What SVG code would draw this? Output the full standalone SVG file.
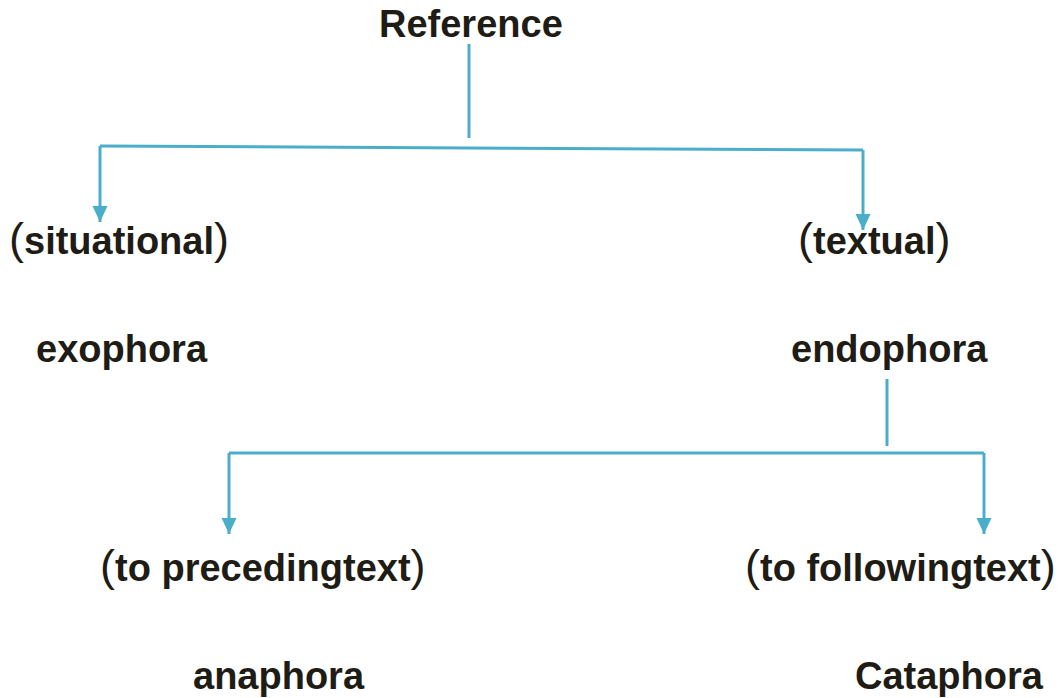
<svg xmlns="http://www.w3.org/2000/svg" width="1062" height="698" viewBox="0 0 1062 698">
<style>
.t{font-family:"Liberation Sans",Arial,sans-serif;font-weight:700;font-size:38px;fill:#1e1c15}
.p{font-weight:400;font-size:45px}
.c{fill:none;stroke:#4aaeca;stroke-width:3}
</style>
<defs>
<marker id="ah" markerUnits="userSpaceOnUse" markerWidth="16" markerHeight="16" viewBox="0 0 16 16" refX="16" refY="8" orient="auto">
<path d="M0,0.5 L16,8 L0,15.5 Z" fill="#4aaeca"/>
</marker>
</defs>
<rect width="1062" height="698" fill="#fff"/>
<g id="connectors">
<path class="c" d="M469,44 V138"/>
<path class="c" d="M100,146 L863,150"/>
<path class="c" d="M100,146 V222" marker-end="url(#ah)"/>
<path class="c" d="M863,150 V230" marker-end="url(#ah)"/>
<path class="c" d="M887,379 V446"/>
<path class="c" d="M229,453 H984"/>
<path class="c" d="M229,453 V534" marker-end="url(#ah)"/>
<path class="c" d="M984,453 V534" marker-end="url(#ah)"/>
</g>
<g id="reference"><text class="t" x="379" y="37">Reference</text></g>
<g id="situational"><text class="t" x="9" y="254"><tspan class="p">(</tspan>situational<tspan class="p">)</tspan></text></g>
<g id="textual"><text class="t" x="798" y="254"><tspan class="p">(</tspan>textual<tspan class="p">)</tspan></text></g>
<g id="exophora"><text class="t" x="36" y="362">exophora</text></g>
<g id="endophora"><text class="t" x="791" y="362">endophora</text></g>
<g id="preceding"><text class="t" x="100" y="581"><tspan class="p">(</tspan>to precedingtext<tspan class="p">)</tspan></text></g>
<g id="following"><text class="t" x="745" y="581"><tspan class="p">(</tspan>to followingtext<tspan class="p">)</tspan></text></g>
<g id="anaphora"><text class="t" x="193" y="689">anaphora</text></g>
<g id="cataphora"><text class="t" x="855" y="689">Cataphora</text></g>
</svg>
